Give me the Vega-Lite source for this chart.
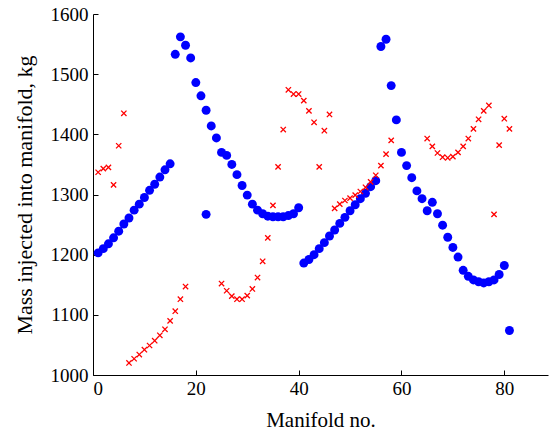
{
  "$schema": "https://vega.github.io/schema/vega-lite/v6.json",
  "width": 455,
  "height": 361,
  "autosize": {"type": "none"},
  "padding": {"left": 93, "top": 14, "right": 1, "bottom": 60},
  "background": "white",
  "config": {
    "view": {"stroke": null},
    "font": "Liberation Serif",
    "axis": {
      "grid": false,
      "domainColor": "black",
      "tickColor": "black",
      "labelColor": "black",
      "titleColor": "black",
      "labelFont": "Liberation Serif",
      "titleFont": "Liberation Serif",
      "labelFontSize": 19,
      "titleFontSize": 21,
      "titleFontWeight": "normal",
      "tickSize": -5,
      "domainWidth": 1,
      "tickWidth": 1,
      "format": "d"
    }
  },
  "datasets": {
    "blue": [
      {"x": 1, "y": 1203}, {"x": 2, "y": 1210}, {"x": 3, "y": 1218}, {"x": 4, "y": 1228},
      {"x": 5, "y": 1239}, {"x": 6, "y": 1251}, {"x": 7, "y": 1261}, {"x": 8, "y": 1274},
      {"x": 9, "y": 1284}, {"x": 10, "y": 1295}, {"x": 11, "y": 1307}, {"x": 12, "y": 1317},
      {"x": 13, "y": 1329}, {"x": 14, "y": 1341}, {"x": 15, "y": 1351}, {"x": 16, "y": 1533},
      {"x": 17, "y": 1562}, {"x": 18, "y": 1548}, {"x": 19, "y": 1527}, {"x": 20, "y": 1486},
      {"x": 21, "y": 1464}, {"x": 22, "y": 1440}, {"x": 22, "y": 1267}, {"x": 23, "y": 1414},
      {"x": 24, "y": 1394}, {"x": 25, "y": 1370}, {"x": 26, "y": 1365}, {"x": 27, "y": 1350},
      {"x": 28, "y": 1333}, {"x": 29, "y": 1315}, {"x": 30, "y": 1299}, {"x": 31, "y": 1284},
      {"x": 32, "y": 1274}, {"x": 33, "y": 1268}, {"x": 34, "y": 1264}, {"x": 35, "y": 1263},
      {"x": 36, "y": 1263}, {"x": 37, "y": 1263}, {"x": 38, "y": 1265}, {"x": 39, "y": 1268},
      {"x": 40, "y": 1278}, {"x": 41, "y": 1186}, {"x": 42, "y": 1192}, {"x": 43, "y": 1200},
      {"x": 44, "y": 1210}, {"x": 45, "y": 1220}, {"x": 46, "y": 1231}, {"x": 47, "y": 1241},
      {"x": 48, "y": 1252}, {"x": 49, "y": 1262}, {"x": 50, "y": 1273}, {"x": 51, "y": 1283},
      {"x": 52, "y": 1293}, {"x": 53, "y": 1302}, {"x": 54, "y": 1313}, {"x": 55, "y": 1323},
      {"x": 56, "y": 1546}, {"x": 57, "y": 1558}, {"x": 58, "y": 1481}, {"x": 59, "y": 1424},
      {"x": 60, "y": 1370}, {"x": 61, "y": 1348}, {"x": 62, "y": 1328}, {"x": 63, "y": 1306},
      {"x": 64, "y": 1293}, {"x": 65, "y": 1273}, {"x": 66, "y": 1287}, {"x": 67, "y": 1268},
      {"x": 68, "y": 1249}, {"x": 69, "y": 1229}, {"x": 70, "y": 1212}, {"x": 71, "y": 1196},
      {"x": 72, "y": 1174}, {"x": 73, "y": 1164}, {"x": 74, "y": 1158}, {"x": 75, "y": 1155},
      {"x": 76, "y": 1153}, {"x": 77, "y": 1155}, {"x": 78, "y": 1158}, {"x": 79, "y": 1167},
      {"x": 80, "y": 1182}, {"x": 81, "y": 1074}
    ],
    "red": [
      {"x": 1, "y": 1337}, {"x": 2, "y": 1343}, {"x": 3, "y": 1345}, {"x": 4, "y": 1316},
      {"x": 5, "y": 1381}, {"x": 6, "y": 1435},
      {"x": 7, "y": 1020}, {"x": 8, "y": 1027}, {"x": 9, "y": 1034}, {"x": 10, "y": 1042},
      {"x": 11, "y": 1049}, {"x": 12, "y": 1057}, {"x": 13, "y": 1066}, {"x": 14, "y": 1076},
      {"x": 15, "y": 1090}, {"x": 16, "y": 1106}, {"x": 17, "y": 1126}, {"x": 18, "y": 1147},
      {"x": 25, "y": 1152}, {"x": 26, "y": 1140}, {"x": 27, "y": 1131}, {"x": 28, "y": 1126},
      {"x": 29, "y": 1126}, {"x": 30, "y": 1132}, {"x": 31, "y": 1143}, {"x": 32, "y": 1162},
      {"x": 33, "y": 1189}, {"x": 34, "y": 1228}, {"x": 35, "y": 1282},
      {"x": 36, "y": 1346}, {"x": 37, "y": 1408}, {"x": 38, "y": 1474}, {"x": 39, "y": 1467},
      {"x": 40, "y": 1467}, {"x": 41, "y": 1456}, {"x": 42, "y": 1439}, {"x": 43, "y": 1420},
      {"x": 44, "y": 1346}, {"x": 45, "y": 1406}, {"x": 46, "y": 1433},
      {"x": 47, "y": 1277}, {"x": 48, "y": 1284}, {"x": 49, "y": 1290}, {"x": 50, "y": 1294},
      {"x": 51, "y": 1299}, {"x": 52, "y": 1305}, {"x": 53, "y": 1312}, {"x": 54, "y": 1321},
      {"x": 55, "y": 1332}, {"x": 56, "y": 1348}, {"x": 57, "y": 1367}, {"x": 58, "y": 1390},
      {"x": 65, "y": 1393}, {"x": 66, "y": 1380}, {"x": 67, "y": 1369}, {"x": 68, "y": 1362},
      {"x": 69, "y": 1361}, {"x": 70, "y": 1363}, {"x": 71, "y": 1370}, {"x": 72, "y": 1380},
      {"x": 73, "y": 1393}, {"x": 74, "y": 1409}, {"x": 75, "y": 1425}, {"x": 76, "y": 1439},
      {"x": 77, "y": 1448}, {"x": 78, "y": 1267}, {"x": 79, "y": 1382}, {"x": 80, "y": 1426},
      {"x": 81, "y": 1409}
    ]
  },
  "layer": [
    {
      "data": {"name": "blue"},
      "mark": {"type": "point", "shape": "circle", "filled": true, "size": 80, "color": "#0000ff", "opacity": 1},
      "encoding": {
        "x": {"field": "x", "type": "quantitative", "scale": {"domain": [0, 88.5], "nice": false},
          "axis": {"values": [0, 20, 40, 60, 80], "title": "Manifold no.", "labelPadding": 9, "titlePadding": 11}},
        "y": {"field": "y", "type": "quantitative", "scale": {"domain": [1000, 1600], "nice": false},
          "axis": {"values": [1000, 1100, 1200, 1300, 1400, 1500, 1600], "title": "Mass injected into manifold, kg", "labelPadding": 10, "titlePadding": 14, "titleFontSize": 22}}
      }
    },
    {
      "data": {"name": "red"},
      "mark": {"type": "point", "shape": "M-1,-1L1,1M-1,1L1,-1", "filled": false, "size": 28, "stroke": "#ff0000", "strokeWidth": 1.3, "opacity": 1},
      "encoding": {
        "x": {"field": "x", "type": "quantitative"},
        "y": {"field": "y", "type": "quantitative"}
      }
    }
  ]
}
